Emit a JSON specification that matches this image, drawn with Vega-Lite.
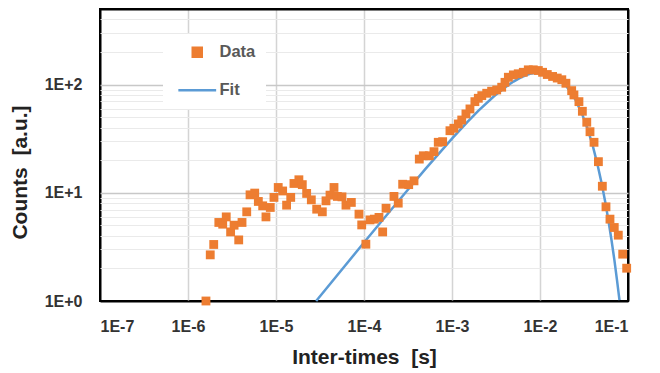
{
  "$schema": "https://vega.github.io/schema/vega-lite/v6.json",
  "width": 528,
  "height": 292,
  "autosize": {"type": "none"},
  "padding": {"left": 100, "top": 9, "right": 32, "bottom": 72},
  "background": "white",
  "config": {
    "view": {"stroke": "#000000", "strokeWidth": 2},
    "axis": {
      "labelFont": "Liberation Sans",
      "labelFontWeight": "bold",
      "labelFontSize": 16,
      "labelColor": "#333333",
      "titleFont": "Liberation Sans",
      "titleFontWeight": "bold",
      "titleFontSize": 21,
      "titleColor": "#222222",
      "ticks": false,
      "domain": false,
      "labelOverlap": false
    },
    "legend": {
      "labelFont": "Liberation Sans",
      "labelFontWeight": "bold",
      "labelFontSize": 16.5,
      "labelColor": "#595959"
    }
  },
  "data": {
    "values": [
      {"series": "Data", "t": 1.60e-6, "count": 1.0},
      {"series": "Data", "t": 1.79e-6, "count": 2.67},
      {"series": "Data", "t": 1.96e-6, "count": 3.33},
      {"series": "Data", "t": 2.24e-6, "count": 5.32},
      {"series": "Data", "t": 2.48e-6, "count": 5.13},
      {"series": "Data", "t": 2.72e-6, "count": 5.99},
      {"series": "Data", "t": 3.05e-6, "count": 4.35},
      {"series": "Data", "t": 3.34e-6, "count": 5.02},
      {"series": "Data", "t": 3.77e-6, "count": 3.67},
      {"series": "Data", "t": 4.11e-6, "count": 5.32},
      {"series": "Data", "t": 4.65e-6, "count": 6.67},
      {"series": "Data", "t": 5.07e-6, "count": 9.58},
      {"series": "Data", "t": 5.73e-6, "count": 9.94},
      {"series": "Data", "t": 6.30e-6, "count": 8.32},
      {"series": "Data", "t": 7.06e-6, "count": 7.58},
      {"series": "Data", "t": 7.69e-6, "count": 5.99},
      {"series": "Data", "t": 8.61e-6, "count": 7.32},
      {"series": "Data", "t": 9.48e-6, "count": 9.07},
      {"series": "Data", "t": 1.06e-5, "count": 11.2},
      {"series": "Data", "t": 1.19e-5, "count": 10.4},
      {"series": "Data", "t": 1.32e-5, "count": 7.69},
      {"series": "Data", "t": 1.47e-5, "count": 9.07},
      {"series": "Data", "t": 1.60e-5, "count": 12.2},
      {"series": "Data", "t": 1.82e-5, "count": 13.2},
      {"series": "Data", "t": 1.99e-5, "count": 11.9},
      {"series": "Data", "t": 2.23e-5, "count": 9.87},
      {"series": "Data", "t": 2.52e-5, "count": 8.61},
      {"series": "Data", "t": 2.90e-5, "count": 7.06},
      {"series": "Data", "t": 3.36e-5, "count": 6.67},
      {"series": "Data", "t": 3.70e-5, "count": 8.43},
      {"series": "Data", "t": 4.11e-5, "count": 9.52},
      {"series": "Data", "t": 4.56e-5, "count": 11.2},
      {"series": "Data", "t": 4.98e-5, "count": 9.26},
      {"series": "Data", "t": 5.62e-5, "count": 9.18},
      {"series": "Data", "t": 6.24e-5, "count": 7.69},
      {"series": "Data", "t": 7.18e-5, "count": 8.15},
      {"series": "Data", "t": 8.77e-5, "count": 6.35},
      {"series": "Data", "t": 9.42e-5, "count": 5.05},
      {"series": "Data", "t": 1.05e-4, "count": 3.35},
      {"series": "Data", "t": 1.17e-4, "count": 5.62},
      {"series": "Data", "t": 1.31e-4, "count": 5.71},
      {"series": "Data", "t": 1.48e-4, "count": 5.92},
      {"series": "Data", "t": 1.63e-4, "count": 4.35},
      {"series": "Data", "t": 1.78e-4, "count": 7.2},
      {"series": "Data", "t": 2.19e-4, "count": 9.26},
      {"series": "Data", "t": 2.45e-4, "count": 8.03},
      {"series": "Data", "t": 2.75e-4, "count": 12.0},
      {"series": "Data", "t": 3.22e-4, "count": 11.9},
      {"series": "Data", "t": 3.70e-4, "count": 12.9},
      {"series": "Data", "t": 4.25e-4, "count": 20.5},
      {"series": "Data", "t": 4.72e-4, "count": 22.0},
      {"series": "Data", "t": 5.52e-4, "count": 22.0},
      {"series": "Data", "t": 6.24e-4, "count": 24.0},
      {"series": "Data", "t": 6.98e-4, "count": 29.3},
      {"series": "Data", "t": 7.83e-4, "count": 29.7},
      {"series": "Data", "t": 9.48e-4, "count": 37.5},
      {"series": "Data", "t": 1.05e-3, "count": 39.5},
      {"series": "Data", "t": 1.18e-3, "count": 43.3},
      {"series": "Data", "t": 1.29e-3, "count": 47.1},
      {"series": "Data", "t": 1.44e-3, "count": 53.6},
      {"series": "Data", "t": 1.60e-3, "count": 59.6},
      {"series": "Data", "t": 1.82e-3, "count": 69.6},
      {"series": "Data", "t": 1.99e-3, "count": 74.8},
      {"series": "Data", "t": 2.18e-3, "count": 79.1},
      {"series": "Data", "t": 2.48e-3, "count": 83.2},
      {"series": "Data", "t": 2.82e-3, "count": 86.9},
      {"series": "Data", "t": 3.22e-3, "count": 89.3},
      {"series": "Data", "t": 3.67e-3, "count": 94.6},
      {"series": "Data", "t": 4.00e-3, "count": 105},
      {"series": "Data", "t": 4.37e-3, "count": 117},
      {"series": "Data", "t": 4.98e-3, "count": 123},
      {"series": "Data", "t": 5.66e-3, "count": 126},
      {"series": "Data", "t": 6.46e-3, "count": 130},
      {"series": "Data", "t": 7.36e-3, "count": 137},
      {"series": "Data", "t": 8.39e-3, "count": 137},
      {"series": "Data", "t": 9.58e-3, "count": 135},
      {"series": "Data", "t": 1.07e-2, "count": 130},
      {"series": "Data", "t": 1.21e-2, "count": 124},
      {"series": "Data", "t": 1.39e-2, "count": 119},
      {"series": "Data", "t": 1.57e-2, "count": 115},
      {"series": "Data", "t": 1.77e-2, "count": 111},
      {"series": "Data", "t": 1.97e-2, "count": 103},
      {"series": "Data", "t": 2.29e-2, "count": 88},
      {"series": "Data", "t": 2.43e-2, "count": 80.3},
      {"series": "Data", "t": 2.77e-2, "count": 69.6},
      {"series": "Data", "t": 3.03e-2, "count": 56.7},
      {"series": "Data", "t": 3.40e-2, "count": 44.9},
      {"series": "Data", "t": 3.70e-2, "count": 36.7},
      {"series": "Data", "t": 4.11e-2, "count": 29.3},
      {"series": "Data", "t": 4.61e-2, "count": 19.4},
      {"series": "Data", "t": 5.11e-2, "count": 11.5},
      {"series": "Data", "t": 5.62e-2, "count": 7.42},
      {"series": "Data", "t": 6.24e-2, "count": 5.71},
      {"series": "Data", "t": 6.98e-2, "count": 4.78},
      {"series": "Data", "t": 7.76e-2, "count": 4.06},
      {"series": "Data", "t": 8.71e-2, "count": 2.71},
      {"series": "Data", "t": 9.66e-2, "count": 2.01},
      {"series": "Fit", "t": 2.86e-5, "count": 1.0},
      {"series": "Fit", "t": 1e-4, "count": 3.47},
      {"series": "Fit", "t": 2e-4, "count": 6.86},
      {"series": "Fit", "t": 3e-4, "count": 10.19},
      {"series": "Fit", "t": 5e-4, "count": 16.65},
      {"series": "Fit", "t": 1e-3, "count": 31.7},
      {"series": "Fit", "t": 1.5e-3, "count": 45.3},
      {"series": "Fit", "t": 2e-3, "count": 57.4},
      {"series": "Fit", "t": 3e-3, "count": 78.0},
      {"series": "Fit", "t": 4e-3, "count": 94.2},
      {"series": "Fit", "t": 5e-3, "count": 106.7},
      {"series": "Fit", "t": 6e-3, "count": 115.9},
      {"series": "Fit", "t": 7e-3, "count": 122.6},
      {"series": "Fit", "t": 8e-3, "count": 126.9},
      {"series": "Fit", "t": 1e-2, "count": 130.0},
      {"series": "Fit", "t": 1.2e-2, "count": 128.1},
      {"series": "Fit", "t": 1.5e-2, "count": 118.9},
      {"series": "Fit", "t": 2e-2, "count": 96.6},
      {"series": "Fit", "t": 2.5e-2, "count": 73.6},
      {"series": "Fit", "t": 3e-2, "count": 53.9},
      {"series": "Fit", "t": 3.5e-2, "count": 38.3},
      {"series": "Fit", "t": 4e-2, "count": 26.7},
      {"series": "Fit", "t": 4.5e-2, "count": 18.3},
      {"series": "Fit", "t": 5e-2, "count": 12.4},
      {"series": "Fit", "t": 5.5e-2, "count": 8.30},
      {"series": "Fit", "t": 6e-2, "count": 5.52},
      {"series": "Fit", "t": 6.5e-2, "count": 3.64},
      {"series": "Fit", "t": 7e-2, "count": 2.40},
      {"series": "Fit", "t": 7.5e-2, "count": 1.56},
      {"series": "Fit", "t": 8e-2, "count": 1.02}
    ]
  },
  "encoding": {
    "x": {
      "field": "t",
      "type": "quantitative",
      "scale": {"type": "log", "domain": [1e-7, 0.1], "nice": false},
      "axis": {
        "title": "Inter-times\u00a0 [s]",
        "values": [1e-7, 1e-6, 1e-5, 1e-4, 1e-3, 1e-2, 1e-1],
        "labelExpr": "'1E' + (round(log(datum.value)/LN10) >= 0 ? '+' : '') + round(log(datum.value)/LN10)",
        "labelPadding": 17,
        "titlePadding": 12,
        "gridColor": {"condition": {"test": "datum.value < 2e-7 || datum.value > 0.05", "value": "#000000"}, "value": "#D4D4D4"},
        "gridWidth": {"condition": {"test": "datum.value < 2e-7 || datum.value > 0.05", "value": 2}, "value": 1.5}
      }
    },
    "y": {
      "field": "count",
      "type": "quantitative",
      "scale": {"type": "log", "domain": [1, 500], "nice": false},
      "axis": {
        "title": "Counts\u00a0 [a.u.]",
        "titleY": 163,
        "values": [1, 2, 3, 4, 5, 6, 7, 8, 9, 10, 20, 30, 40, 50, 60, 70, 80, 90, 100, 200, 300, 400, 500],
        "labelExpr": "abs(log(datum.value)/LN10 - round(log(datum.value)/LN10)) < 0.001 ? '1E' + (round(log(datum.value)/LN10) >= 0 ? '+' : '') + round(log(datum.value)/LN10) : ''",
        "labelPadding": 18,
        "titlePadding": 14,
        "gridColor": {"condition": [{"test": "datum.value < 1.5 || datum.value > 450", "value": "#000000"}, {"test": "abs(log(datum.value)/LN10 - round(log(datum.value)/LN10)) < 0.001", "value": "#C8C8C8"}], "value": "#EAEAEA"},
        "gridWidth": {"condition": [{"test": "datum.value < 1.5 || datum.value > 450", "value": 2}, {"test": "abs(log(datum.value)/LN10 - round(log(datum.value)/LN10)) < 0.001", "value": 1.5}], "value": 1}
      }
    },
    "color": {
      "field": "series",
      "type": "nominal",
      "scale": {"domain": ["Data", "Fit"], "range": ["#ED7D31", "#5B9BD5"]},
      "legend": {
        "title": null,
        "orient": "none",
        "legendX": 63,
        "legendY": 25,
        "padding": 10,
        "fillColor": "#FFFFFF",
        "symbolOffset": 16,
        "symbolSize": 81,
        "labelOffset": 14,
        "rowPadding": 20,
        "encode": {
          "symbols": {
            "update": {
              "shape": {"signal": "datum.value === 'Fit' ? 'M-4.2,0H4.2' : 'square'"},
              "fill": {"signal": "datum.value === 'Fit' ? 'transparent' : '#ED7D31'"},
              "stroke": {"signal": "datum.value === 'Fit' ? '#5B9BD5' : 'transparent'"},
              "strokeWidth": {"value": 2.5},
              "opacity": {"value": 1}
            }
          }
        }
      }
    }
  },
  "layer": [
    {
      "transform": [{"filter": "datum.series === 'Fit'"}],
      "mark": {"type": "line", "strokeWidth": 2.5}
    },
    {
      "transform": [{"filter": "datum.series === 'Data'"}],
      "mark": {"type": "square", "size": 78, "opacity": 1, "filled": true}
    }
  ]
}
